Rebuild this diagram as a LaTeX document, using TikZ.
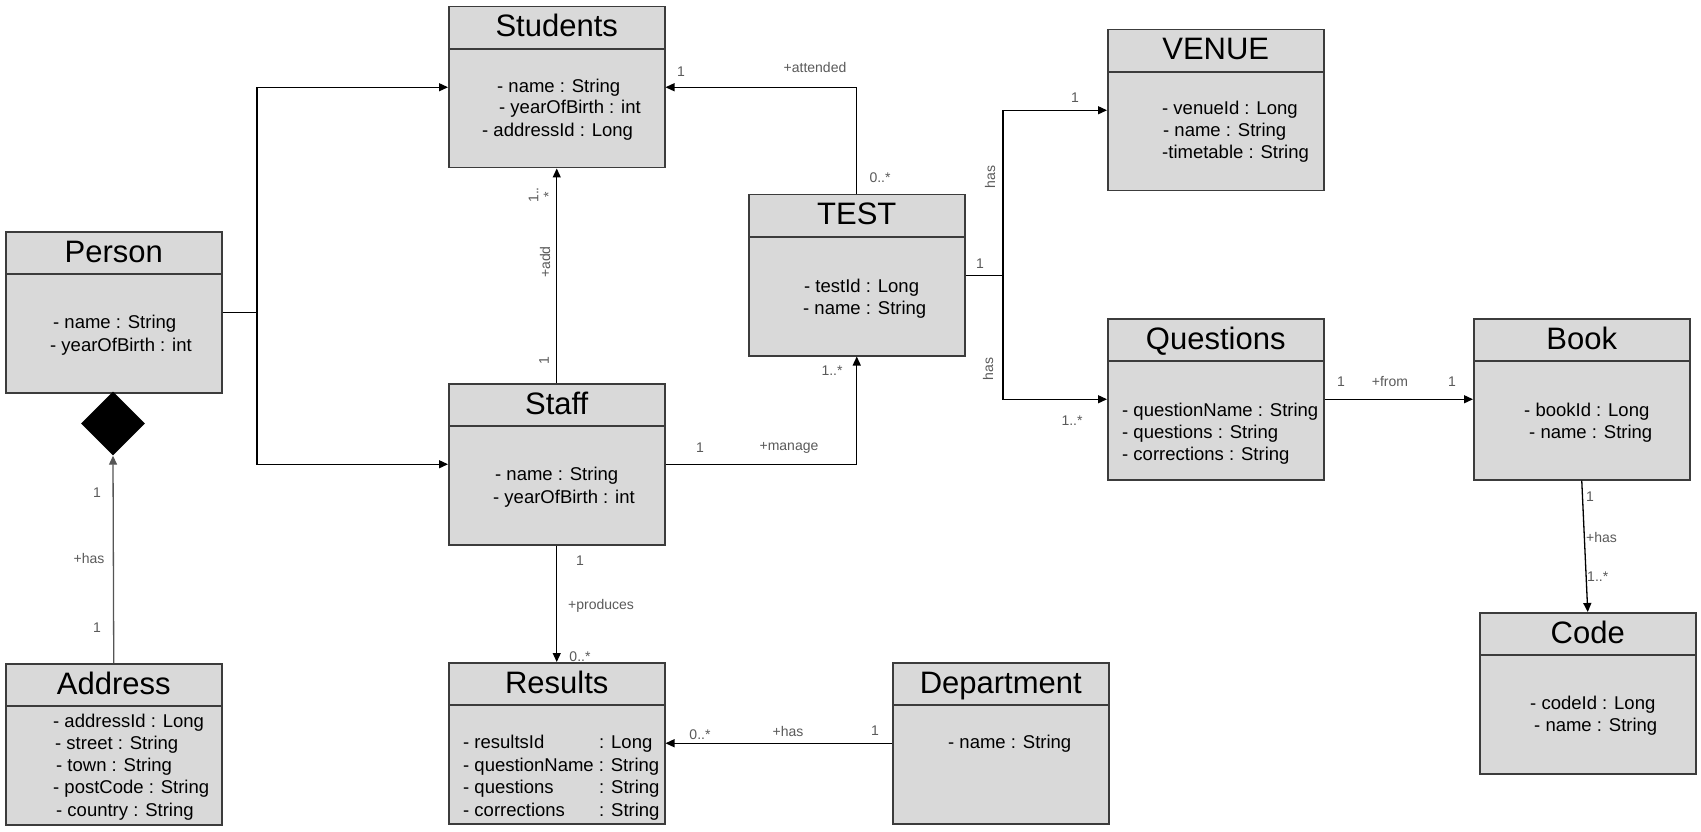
\documentclass[tikz,border=0pt]{standalone}
\usepackage{fontspec}
\setmainfont{Liberation Sans}
\usetikzlibrary{arrows.meta,shapes.geometric}
\definecolor{boxfill}{HTML}{D9D9D9}
\definecolor{boxline}{HTML}{3C3C3C}
\definecolor{lblgrey}{HTML}{5A5A5A}
\definecolor{linegrey}{HTML}{555555}
\tikzset{
  umlbox/.style={draw=boxline, line width=1.5pt, fill=boxfill, minimum width=216pt, minimum height=161pt, inner sep=0pt, anchor=north west},
  headline/.style={draw=boxline, line width=1.3pt},
  titletext/.style={font=\fontsize{31}{36}\selectfont, inner sep=0pt, anchor=base},
  attr/.style={font=\fontsize{18.5}{22}\selectfont, inner sep=0pt, anchor=base west},
  lbl/.style={font=\fontsize{14}{15}\selectfont, text=lblgrey, inner sep=0pt},
  assoc/.style={draw=black, line width=1.3pt, -{Triangle[length=9pt,width=8pt]}},
  link/.style={draw=black, line width=1.3pt},
}
\newcommand{\umlclass}[4]{%
  \node[umlbox] (#1) at (#2,#3) {};
  \draw[headline] ([yshift=-43pt]#1.north west) -- ([yshift=-43pt]#1.north east);
  \node[titletext] (#1-title) at ([yshift=-31pt]#1.north) {#4};
}
\begin{document}
\begin{tikzpicture}[x=1pt,y=-1pt]
\useasboundingbox[fill=white] (0,0) rectangle (1701,832);

% classes
\umlclass{Students}{448}{6}{Students}
\umlclass{Person}{5}{231}{Person}
\umlclass{Staff}{448}{383}{Staff}
\umlclass{TEST}{748}{194}{TEST}
\umlclass{VENUE}{1107}{29}{VENUE}
\umlclass{Questions}{1107}{318}{Questions}
\umlclass{Book}{1473}{318}{Book}
\umlclass{Code}{1479}{612}{Code}
\umlclass{Address}{5}{663}{Address}
\umlclass{Results}{448}{662}{Results}
\umlclass{Department}{892}{662}{Department}

% attributes
\node[attr] (st1) at (497,93) {- name : String};
\node[attr] (st2) at (499,114) {- yearOfBirth : int};
\node[attr] (st3) at (482,137) {- addressId : Long};

\node[attr] (pe1) at (53,328) {- name : String};
\node[attr] (pe2) at (50,351) {- yearOfBirth : int};

\node[attr] (sf1) at (495,480) {- name : String};
\node[attr] (sf2) at (493,503) {- yearOfBirth : int};

\node[attr] (te1) at (804,292) {- testId : Long};
\node[attr] (te2) at (803,314) {- name : String};

\node[attr] (ve1) at (1162,115) {- venueId : Long};
\node[attr] (ve2) at (1163,137) {- name : String};
\node[attr] (ve3) at (1162,159) {-timetable : String};

\node[attr] (qu1) at (1122,416) {- questionName : String};
\node[attr] (qu2) at (1122,438) {- questions : String};
\node[attr] (qu3) at (1122,460) {- corrections : String};

\node[attr] (bo1) at (1524,416) {- bookId : Long};
\node[attr] (bo2) at (1529,438) {- name : String};

\node[attr] (co1) at (1530,709) {- codeId : Long};
\node[attr] (co2) at (1534,731) {- name : String};

\node[attr] (ad1) at (53,727) {- addressId : Long};
\node[attr] (ad2) at (55,749) {- street : String};
\node[attr] (ad3) at (56,771) {- town : String};
\node[attr] (ad4) at (53,793) {- postCode : String};
\node[attr] (ad5) at (56,816) {- country : String};

\node[attr] (re1) at (463,748) {- resultsId};
\node[attr] (re1t) at (599,748) {: Long};
\node[attr] (re2) at (463,771) {- questionName : String};
\node[attr] (re3) at (463,793) {- questions};
\node[attr] (re3t) at (599,793) {: String};
\node[attr] (re4) at (463,816) {- corrections};
\node[attr] (re4t) at (599,816) {: String};

\node[attr] (de1) at (948,748) {- name : String};

% composition diamond
\node[diamond, fill=black, minimum width=64pt, minimum height=64pt, inner sep=0pt, aspect=1] (comp) at (113,423.5) {};

% connectors
\coordinate (busL) at (257,0);
\coordinate (busR) at (1003,0);
\draw[link] (Person.east) -- (busL |- Person.east);
\draw[assoc] (busL |- Person.east) |- (Students.west);
\draw[assoc] (busL |- Person.east) |- (Staff.west);
\draw[assoc] (Staff.north) -- (Students.south);
\draw[assoc] (TEST.north) |- (Students.east);
\draw[assoc] (Staff.east) -| (TEST.south);
\draw[link] (TEST.east) -- (busR |- TEST.east);
\draw[assoc] (busR |- TEST.east) |- (VENUE.west);
\draw[assoc] (busR |- TEST.east) |- (Questions.west);
\draw[assoc] (Questions.east) -- (Book.west);
\draw[assoc] (Book.south) -- (Code.north);
\draw[assoc] (Staff.south) -- (Results.north);
\draw[assoc] (Department.west) -- (Results.east);
\draw[assoc, draw=linegrey] (Address.north) -- (comp.south);

% labels
\node[lbl] (l01) at (681,72) {1};
\node[lbl] (l02) at (815,67) {+attended};
\node[lbl] (l03) at (880,178) {0..*};
\node[lbl] (l04) at (832,371) {1..*};
\node[lbl] (l05) at (700,448) {1};
\node[lbl] (l06) at (789,448) {+manage};
\node[lbl, rotate=90, align=center] (l07) at (541,195) {1..\\*};
\node[lbl, rotate=90] (l08) at (545,262) {+add};
\node[lbl, rotate=90] (l09) at (544,361) {1};
\node[lbl] (l10) at (580,561) {1};
\node[lbl, anchor=west] (l11) at (568,606) {+produces};
\node[lbl] (l12) at (580,657) {0..*};
\node[lbl] (l13) at (700,735) {0..*};
\node[lbl] (l14) at (788,731) {+has};
\node[lbl] (l15) at (875,731) {1};
\node[lbl] (l16) at (980,264) {1};
\node[lbl, rotate=90] (l17) at (990,177) {has};
\node[lbl, rotate=90] (l18) at (988,369) {has};
\node[lbl] (l19) at (1075,98) {1};
\node[lbl] (l20) at (1072,421) {1..*};
\node[lbl] (l21) at (1341,382) {1};
\node[lbl] (l22) at (1390,382) {+from};
\node[lbl] (l23) at (1452,382) {1};
\node[lbl, anchor=west] (l24) at (1586,497) {1};
\node[lbl, anchor=west] (l25) at (1586,537) {+has};
\node[lbl, anchor=west] (l26) at (1587,577) {1..*};
\node[lbl] (l27) at (97,493) {1};
\node[lbl] (l28) at (89,558) {+has};
\node[lbl] (l29) at (97,628) {1};
\end{tikzpicture}
\end{document}
